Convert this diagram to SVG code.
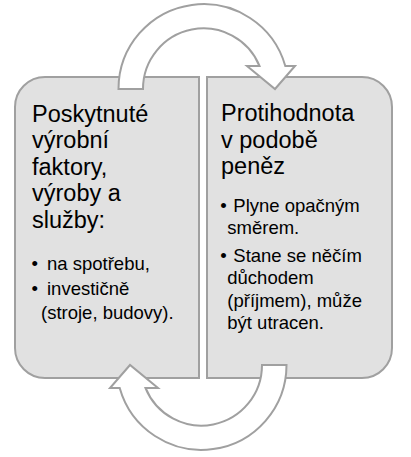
<svg xmlns="http://www.w3.org/2000/svg" width="411" height="457" viewBox="0 0 411 457">
<style>
.box{fill:#e1e1e1;stroke:#a0a0a0;stroke-width:2}
.arr{fill:#ffffff;stroke:#a0a0a0;stroke-width:2;stroke-linejoin:miter}
.h{font-family:"Liberation Sans",Arial,sans-serif;font-size:23.5px;fill:#000}
.b{font-family:"Liberation Sans",Arial,sans-serif;font-size:18.5px;fill:#000}
</style>
<rect width="411" height="457" fill="#ffffff"/>
<g id="node-left">
<path class="box" d="M45,77 H199 V378 H45 A30 30 0 0 1 15,348 V107 A30 30 0 0 1 45,77 Z"/>
<text class="h"><tspan x="32" y="121.5">Poskytnuté</tspan><tspan x="32" y="148">výrobní</tspan><tspan x="32" y="174.5">faktory,</tspan><tspan x="32" y="201">výroby a</tspan><tspan x="32" y="227.5">služby:</tspan></text>
<text class="b"><tspan x="31.5" y="269.5">•</tspan><tspan x="47" y="269.5">na spotřebu,</tspan><tspan x="31.5" y="295">•</tspan><tspan x="47" y="295">investičně</tspan><tspan x="41" y="318.5">(stroje, budovy).</tspan></text>
</g>
<g id="node-right">
<path class="box" d="M207,77 H362 A30 30 0 0 1 392,107 V348 A30 30 0 0 1 362,378 H207 Z"/>
<text class="h"><tspan x="221" y="121">Protihodnota</tspan><tspan x="221" y="147.5">v podobě</tspan><tspan x="221" y="174">peněz</tspan></text>
<text class="b"><tspan x="220.3" y="211.7">•</tspan><tspan x="233.3" y="211.7">Plyne opačným</tspan><tspan x="227.3" y="234.3">směrem.</tspan><tspan x="220.3" y="261.7">•</tspan><tspan x="233.3" y="261.7">Stane se něčím</tspan><tspan x="227.3" y="284">důchodem</tspan><tspan x="227.3" y="306.7">(příjmem), může</tspan><tspan x="227.3" y="329">být utracen.</tspan></text>
</g>
<g id="connectors">
<path id="arrow-top" class="arr" d="M118.5,89 A85 85 0 0 1 285.3,66 L295,66 L275,89 L247,66 L259.5,66 A60.5 60.5 0 0 0 143,89 Z"/>
<path id="arrow-bottom" class="arr" transform="rotate(180 202.5 227)" d="M118.5,89 A85 85 0 0 1 285.3,66 L295,66 L275,89 L247,66 L259.5,66 A60.5 60.5 0 0 0 143,89 Z"/>
</g>
</svg>
